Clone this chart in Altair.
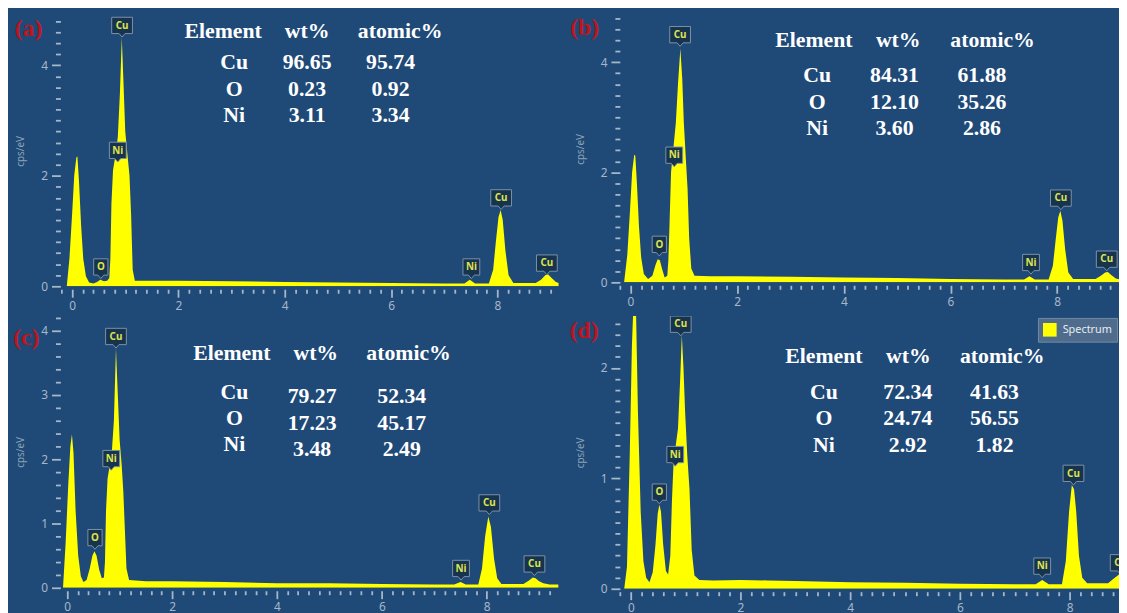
import altair as alt
import pandas as pd

# ---------------- data ----------------
energy_a = [-0.1, -0.05, 0.0, 0.04, 0.08, 0.1, 0.13, 0.17, 0.21, 0.26, 0.32, 0.4, 0.47, 0.53, 0.6, 0.66,
            0.7, 0.72, 0.74, 0.77, 0.82, 0.86, 0.9, 0.935, 0.97, 1.0, 1.04, 1.08, 1.11, 1.14, 1.18,
            1.5, 2.0, 3.0, 4.0, 5.0, 6.0, 7.0, 7.38, 7.48, 7.58,
            7.84, 7.92, 7.97, 8.02, 8.06, 8.1, 8.15, 8.21, 8.3, 8.72, 8.82, 8.9, 8.95, 9.02, 9.1, 9.16]
counts_a = [0.0, 0.5, 1.3, 2.0, 2.33, 2.35, 1.9, 1.1, 0.5, 0.18, 0.07, 0.05, 0.08, 0.12, 0.09, 0.1,
            0.15, 0.5, 1.5, 2.1, 2.4, 2.7, 3.5, 4.5, 3.6, 2.8, 2.4, 2.0, 1.3, 0.3, 0.1,
            0.1, 0.1, 0.09, 0.08, 0.07, 0.06, 0.05, 0.05, 0.12, 0.05,
            0.05, 0.3, 0.8, 1.25, 1.38, 1.2, 0.65, 0.2, 0.06, 0.06, 0.12, 0.2, 0.22, 0.15, 0.08, 0.06]

energy_b = [-0.12, -0.06, -0.01, 0.03, 0.07, 0.09, 0.12, 0.16, 0.2, 0.25, 0.33, 0.41, 0.47, 0.51, 0.55, 0.59, 0.64,
            0.69, 0.71, 0.73, 0.76, 0.8, 0.85, 0.89, 0.935, 0.97, 1.0, 1.04, 1.07, 1.1, 1.14, 1.2,
            1.5, 2.0, 3.0, 4.0, 5.0, 6.0, 7.0, 7.38, 7.48, 7.58,
            7.84, 7.92, 7.97, 8.02, 8.06, 8.1, 8.15, 8.21, 8.3, 8.72, 8.82, 8.9, 8.95, 9.02, 9.1, 9.2]
counts_b = [0.0, 0.5, 1.3, 2.0, 2.32, 2.3, 1.8, 1.0, 0.45, 0.15, 0.06, 0.12, 0.32, 0.42, 0.4, 0.25, 0.09,
            0.12, 0.4, 1.0, 2.0, 2.4, 2.9, 3.6, 4.25, 3.7, 2.9, 2.2, 1.7, 0.8, 0.25, 0.12,
            0.11, 0.11, 0.1, 0.09, 0.08, 0.06, 0.05, 0.05, 0.11, 0.05,
            0.05, 0.3, 0.75, 1.18, 1.3, 1.12, 0.6, 0.18, 0.06, 0.06, 0.12, 0.18, 0.19, 0.13, 0.07, 0.05]

energy_c = [-0.08, -0.03, 0.02, 0.06, 0.09, 0.12, 0.16, 0.21, 0.26, 0.31, 0.37, 0.43, 0.48, 0.52, 0.56, 0.61, 0.66, 0.7,
            0.72, 0.74, 0.77, 0.81, 0.85, 0.89, 0.93, 0.96, 1.0, 1.04, 1.07, 1.1, 1.13, 1.18,
            1.5, 2.0, 3.0, 4.0, 5.0, 6.0, 7.0, 7.38, 7.5, 7.6,
            7.84, 7.91, 7.97, 8.03, 8.08, 8.14, 8.2, 8.28, 8.7, 8.8, 8.88, 8.93, 9.0, 9.08, 9.2, 9.37]
counts_c = [0.0, 0.7, 1.6, 2.2, 2.39, 2.1, 1.2, 0.5, 0.18, 0.09, 0.12, 0.3, 0.5, 0.57, 0.5, 0.28, 0.15, 0.16,
            0.4, 1.2, 1.7, 1.9, 2.1, 2.6, 3.73, 3.1, 2.3, 1.9, 1.5, 0.9, 0.3, 0.12,
            0.1, 0.1, 0.09, 0.07, 0.07, 0.06, 0.05, 0.05, 0.09, 0.05,
            0.05, 0.3, 0.8, 1.11, 0.95, 0.45, 0.15, 0.06, 0.06, 0.11, 0.16, 0.15, 0.1, 0.07, 0.05, 0.05]

energy_d = [-0.12, -0.07, -0.02, 0.02, 0.05, 0.07, 0.09, 0.13, 0.18, 0.23, 0.28, 0.34,
            0.4, 0.45, 0.49, 0.52, 0.55, 0.59, 0.64, 0.68,
            0.72, 0.75, 0.78, 0.82, 0.86, 0.9, 0.93, 0.96, 0.99, 1.03, 1.07, 1.11, 1.16, 1.25,
            1.5, 2.0, 2.5, 3.0, 4.0, 5.0, 6.0, 7.0, 7.38, 7.5, 7.62,
            7.86, 7.93, 7.99, 8.04, 8.08, 8.12, 8.17, 8.23, 8.32, 8.7, 8.8, 8.9]
counts_d = [0.0, 0.2, 1.2, 2.2, 2.6, 2.7, 2.65, 1.6, 0.7, 0.25, 0.1, 0.06,
            0.15, 0.4, 0.68, 0.76, 0.7, 0.4, 0.16, 0.13,
            0.3, 0.8, 1.15, 1.3, 1.45, 1.9, 2.3, 2.0, 1.6, 1.2, 0.9, 0.35, 0.12, 0.08,
            0.075, 0.08, 0.075, 0.07, 0.06, 0.055, 0.045, 0.04, 0.04, 0.08, 0.04,
            0.04, 0.25, 0.7, 0.94, 0.9, 0.7, 0.3, 0.1, 0.05, 0.05, 0.09, 0.13]

# peak markers: element name, energy (keV) and height (cps/eV) of the peak top
peak_names = ["Cu", "Ni", "O", "Ni", "Cu", "Cu"]
peak_energy_a = [0.94, 0.86, 0.54, 7.51, 8.07, 8.93]
peak_height_a = [4.51, 2.25, 0.14, 0.14, 1.39, 0.21]
peak_energy_b = [0.93, 0.82, 0.54, 7.51, 8.07, 8.93]
peak_height_b = [4.29, 2.10, 0.48, 0.15, 1.32, 0.21]
peak_energy_c = [0.93, 0.84, 0.53, 7.51, 8.05, 8.91]
peak_height_c = [3.73, 1.83, 0.60, 0.12, 1.14, 0.19]
peak_energy_d = [0.91, 0.81, 0.52, 7.50, 8.07, 8.93]
peak_height_d = [2.29, 1.11, 0.77, 0.10, 0.94, 0.13]

# composition tables
table_header = ["Element", "wt%", "atomic%"]
elements = ["Cu", "O", "Ni"]
wt_a = [96.65, 0.23, 3.11]
at_a = [95.74, 0.92, 3.34]
wt_b = [84.31, 12.10, 3.60]
at_b = [61.88, 35.26, 2.86]
wt_c = [79.27, 17.23, 3.48]
at_c = [52.34, 45.17, 2.49]
wt_d = [72.34, 24.74, 2.92]
at_d = [41.63, 56.55, 1.82]

panel_tags = ["(a)", "(b)", "(c)", "(d)"]
legend_name = "Spectrum"

# ---------------- styling / layout ----------------
BG = "#1f4a78"
YELLOW = "#ffff00"
AXIS_COL = "#a6b7c9"
SANS = "Noto Sans"
SERIF = "Liberation Serif"

LAYOUT = [
    dict(xdom=[-0.22, 9.15], ydom=[0, 4.9], w=504, h=274, ystep=0.2, ymaj=2,
         head_y=4.62, head_x=[2.84, 4.42, 6.17], body_y=[4.05, 4.05], body_x=[3.05, 4.42, 5.99],
         tag=(-0.82, 4.66)),
    dict(xdom=[-0.2, 9.16], ydom=[0, 4.85], w=505, h=270, ystep=0.2, ymaj=2,
         head_y=4.41, head_x=[3.44, 5.02, 6.79], body_y=[3.76, 3.76], body_x=[3.50, 4.95, 6.59],
         tag=(-0.86, 4.62)),
    dict(xdom=[-0.13, 9.37], ydom=[0, 4.23], w=504, h=275, ystep=0.2, ymaj=1,
         head_y=3.66, head_x=[3.14, 4.74, 6.51], body_y=[3.05, 2.98], body_x=[3.19, 4.67, 6.38],
         tag=(-0.78, 3.88)),
    dict(xdom=[-0.2, 8.9], ydom=[0, 2.47], w=505, h=276, ystep=0.1, ymaj=1,
         head_y=2.11, head_x=[3.52, 5.06, 6.77], body_y=[1.78, 1.78], body_x=[3.52, 5.05, 6.63],
         tag=(-0.85, 2.33)),
]


def box_path(hw):
    return (f"M0,0 L-0.3,-0.35 L-{hw},-0.35 L-{hw},-2.0 L{hw},-2.0 L{hw},-0.35 L0.3,-0.35 Z")


SHAPE_SCALE = alt.Scale(domain=["Cu", "Ni", "O"], range=[box_path(1.05), box_path(0.85), box_path(0.72)])


def build_panel(energy, counts, pk_e, pk_h, wt, at, tag, L, legend=False):
    xs = alt.Scale(domain=L["xdom"], nice=False, zero=False)
    ys = alt.Scale(domain=L["ydom"], nice=False, zero=False)
    x_vals = [round(-0.2 + 0.2 * i, 1) for i in range(50)]
    n_y = int(round(L["ydom"][1] / L["ystep"])) + 1
    y_vals = [round(L["ystep"] * i, 2) for i in range(n_y)]
    ymaj = L["ymaj"]
    x_major = "abs(datum.value % 2) < 0.01"
    y_major = f"abs(datum.value / {ymaj} - round(datum.value / {ymaj})) < 0.01"

    xaxis = alt.Axis(
        title=None, values=x_vals, format=".0f",
        labelExpr=f"{x_major} ? datum.label : ''",
        tickSize={"condition": {"test": x_major, "value": 8}, "value": 4},
        tickColor=AXIS_COL, tickWidth=1.8, labelColor=AXIS_COL, labelFont=SANS,
        labelFontSize=12, labelPadding=3, domain=False, grid=False, offset=3,
        labelOverlap=False, labelFlush=False,
    )
    yaxis = alt.Axis(
        title="cps/eV", values=y_vals, format=".0f",
        labelExpr=f"{y_major} ? datum.label : ''",
        tickSize={"condition": {"test": y_major, "value": 9}, "value": 5},
        tickColor=AXIS_COL, tickWidth=1.8, labelColor=AXIS_COL, labelFont=SANS,
        labelFontSize=12, labelPadding=4, domain=False, grid=False,
        labelOverlap=False, labelFlush=False,
        titleColor="#8da1b7", titleFont=SANS, titleFontSize=10, titleFontWeight="normal",
        titleX=-40, titleY=L["h"] / 2, titleAngle=-90, titleAlign="center", titleBaseline="middle",
    )

    def text_layer(txt, xk, yv, **kw):
        df = pd.DataFrame({"t": [txt]})
        return alt.Chart(df).mark_text(**kw).encode(
            x=alt.XDatum(xk, type="quantitative", scale=xs, axis=xaxis),
            y=alt.YDatum(yv, type="quantitative", scale=ys, axis=yaxis),
            text="t:N",
        )

    spec = pd.DataFrame({"energy": energy, "counts": counts, "series": legend_name})
    if legend:
        color = alt.Color("series:N", scale=alt.Scale(domain=[legend_name], range=[YELLOW]),
                          legend=alt.Legend(title=None, orient="top-right", offset=2,
                                            fillColor="#506c8c", strokeColor="#7189a4", padding=5,
                                            symbolType="square", symbolSize=190, symbolStrokeWidth=0,
                                            labelColor="#e6ecf2", labelFont=SANS, labelFontSize=11,
                                            labelOffset=6))
    else:
        color = alt.value(YELLOW)
    area = alt.Chart(spec).mark_area(clip=True, interpolate="linear", opacity=1).encode(
        x=alt.X("energy:Q", scale=xs, axis=xaxis),
        y=alt.Y("counts:Q", scale=ys, axis=yaxis),
        color=color,
    )

    pk = pd.DataFrame({"name": peak_names, "e": pk_e, "h": pk_h})
    boxes = alt.Chart(pk).mark_point(filled=True, size=400, opacity=1, fill="#17344f",
                                     stroke="#7d91a8", strokeWidth=1, clip=True).encode(
        x=alt.X("e:Q", scale=xs, axis=xaxis),
        y=alt.Y("h:Q", scale=ys, axis=yaxis),
        shape=alt.Shape("name:N", scale=SHAPE_SCALE, legend=None),
    )
    box_text = alt.Chart(pk).mark_text(dy=-11.5, font=SANS, fontSize=10, fontWeight="bold",
                                       color="#dfe34f", clip=True).encode(
        x=alt.X("e:Q", scale=xs, axis=xaxis),
        y=alt.Y("h:Q", scale=ys, axis=yaxis),
        text="name:N",
    )

    tkw = dict(font=SERIF, fontWeight="bold", fontSize=22, color="white", align="center",
               baseline="middle", lineBreak="\n", lineHeight=26.7)
    layers = [area, boxes, box_text]
    for i, htxt in enumerate(table_header):
        layers.append(text_layer(htxt, L["head_x"][i], L["head_y"], **tkw))
    cols = ["\n".join(elements),
            "\n".join(f"{v:.2f}" for v in wt),
            "\n".join(f"{v:.2f}" for v in at)]
    for i, ctxt in enumerate(cols):
        yv = L["body_y"][0] if i == 0 else L["body_y"][1]
        layers.append(text_layer(ctxt, L["body_x"][i], yv, **tkw))
    layers.append(text_layer(tag, L["tag"][0], L["tag"][1], font=SERIF, fontWeight="bold",
                             fontSize=24, color="#c0141c", align="center", baseline="middle"))
    return alt.layer(*layers).properties(width=L["w"], height=L["h"])


pa = build_panel(energy_a, counts_a, peak_energy_a, peak_height_a, wt_a, at_a, panel_tags[0], LAYOUT[0])
pb = build_panel(energy_b, counts_b, peak_energy_b, peak_height_b, wt_b, at_b, panel_tags[1], LAYOUT[1])
pc = build_panel(energy_c, counts_c, peak_energy_c, peak_height_c, wt_c, at_c, panel_tags[2], LAYOUT[2])
pd_ = build_panel(energy_d, counts_d, peak_energy_d, peak_height_d, wt_d, at_d, panel_tags[3], LAYOUT[3],
                  legend=True)

chart = (
    alt.concat(pa, pb, pc, pd_, columns=2, spacing={"row": 0, "column": 11})
    .resolve_scale(color="independent")
    .resolve_legend(color="independent")
    .properties(background=BG, padding={"left": 5, "top": 0, "right": 0, "bottom": 0})
    .configure_view(stroke=None)
)

chart.save("out.html", embed_options={"renderer": "svg", "actions": False})
